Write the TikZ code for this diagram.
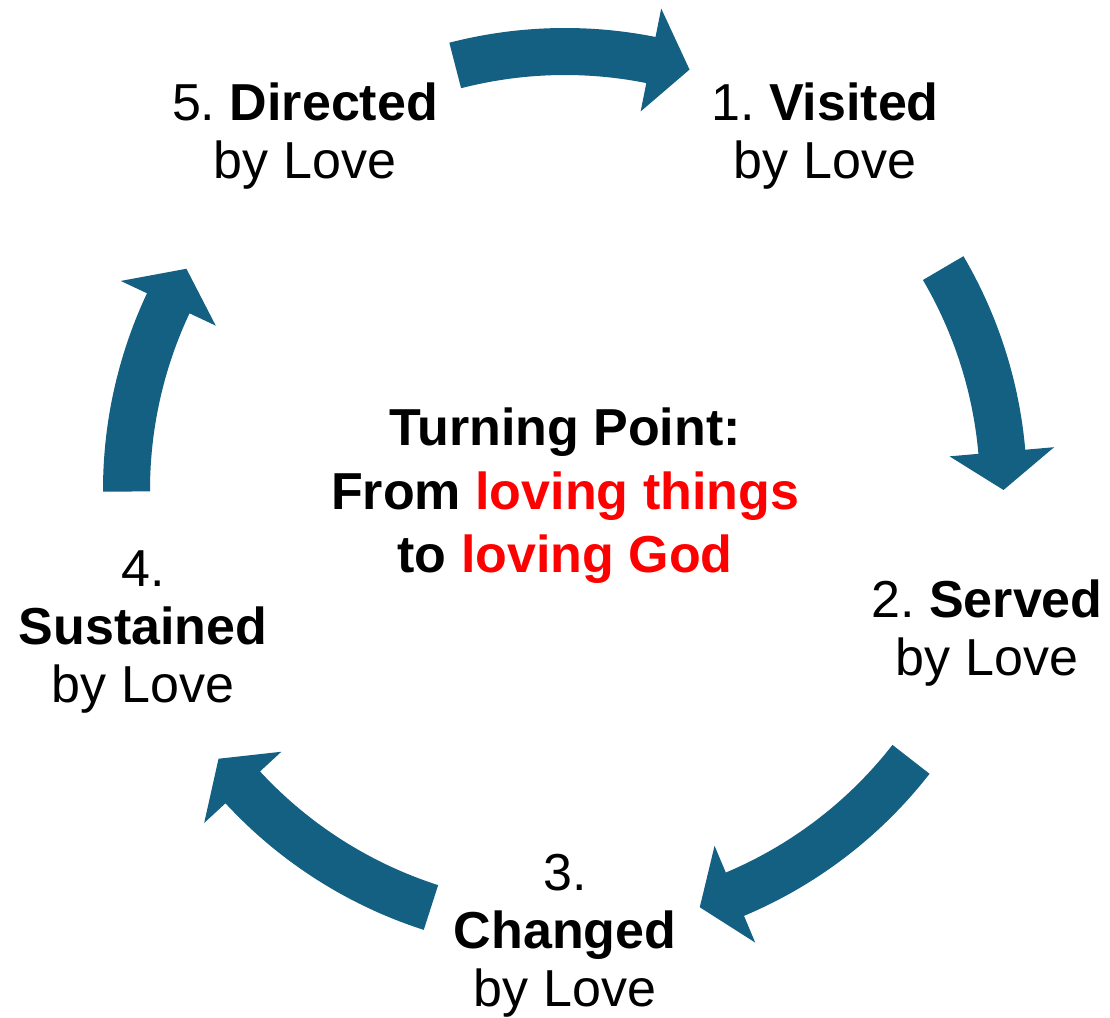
\documentclass[tikz,border=0pt]{standalone}
\usepackage{fontspec}
\setmainfont{Liberation Sans}
\frenchspacing
\definecolor{cyclearrow}{RGB}{19,96,130}

\begin{document}
\begin{tikzpicture}
    [x=0.5pt, y=0.5pt,
    cycle arrow/.style={fill=cyclearrow},
    step text/.style={align=center,inner sep=0pt,font=\fontsize{26}{29}\selectfont},
    turning text/.style={align=center,inner sep=0pt,font=\fontsize{26}{31.75}\selectfont\bfseries}]

    \useasboundingbox (0, 0) rectangle (1110, 1018);
    \coordinate (O) at (565, 528);
    \def\ro{462}
    \def\ri{415}
    \def\rb{491}
    \def\rc{386}
    \def\rt{438.5}

    % drawing the arrows of the cycle
    \begin{scope}[shift={(O)}]
        \fill[cycle arrow] (104.5:\ro) arc[start angle=104.5, end angle=78.7, radius=\ro]
            -- (78.7:\rb) -- (73.5:\rt) -- (78.7:\rc) -- (78.7:\ri)
            arc[start angle=78.7, end angle=104.5, radius=\ri] -- cycle;
        \fill[cycle arrow] (30.4:\ro) arc[start angle=30.4, end angle=5, radius=\ro]
            -- (5:\rb) -- (0:\rt) -- (5:\rc) -- (5:\ri)
            arc[start angle=5, end angle=30.4, radius=\ri] -- cycle;
        \fill[cycle arrow] (-37.9:\ro) arc[start angle=-37.9, end angle=-67.2, radius=\ro]
            -- (-67.2:\rb) -- (-72.1:\rt) -- (-67.2:\rc) -- (-67.2:\ri)
            arc[start angle=-67.2, end angle=-37.9, radius=\ri] -- cycle;
        \fill[cycle arrow] (252.2:\ro) arc[start angle=252.2, end angle=222.7, radius=\ro]
            -- (222.7:\rb) -- (217.8:\rt) -- (222.7:\rc) -- (222.7:\ri)
            arc[start angle=222.7, end angle=252.2, radius=\ri] -- cycle;
        \fill[cycle arrow] (180.2:\ro) arc[start angle=180.2, end angle=154.8, radius=\ro]
            -- (154.8:\rb) -- (149.7:\rt) -- (154.8:\rc) -- (154.8:\ri)
            arc[start angle=154.8, end angle=180.2, radius=\ri] -- cycle;
    \end{scope}

    % drawing the steps
    \node[step text] (visited) at (825, 882) {1. \textbf{Visited}\\by Love};
    \node[step text] (served) at (987, 385) {2. \textbf{Served}\\by Love};
    \node[step text] (changed) at (565, 82) {3.\\\textbf{Changed}\\by Love};
    \node[step text] (sustained) at (143, 386) {4.\\\textbf{Sustained}\\by Love};
    \node[step text] (directed) at (305, 882) {5. \textbf{Directed}\\by Love};

    % drawing the turning point
    \node[turning text] (turning) at (565, 522) {Turning Point:\\From \textcolor{red}{loving things}\\to \textcolor{red}{loving God}};

\end{tikzpicture}
\end{document}
